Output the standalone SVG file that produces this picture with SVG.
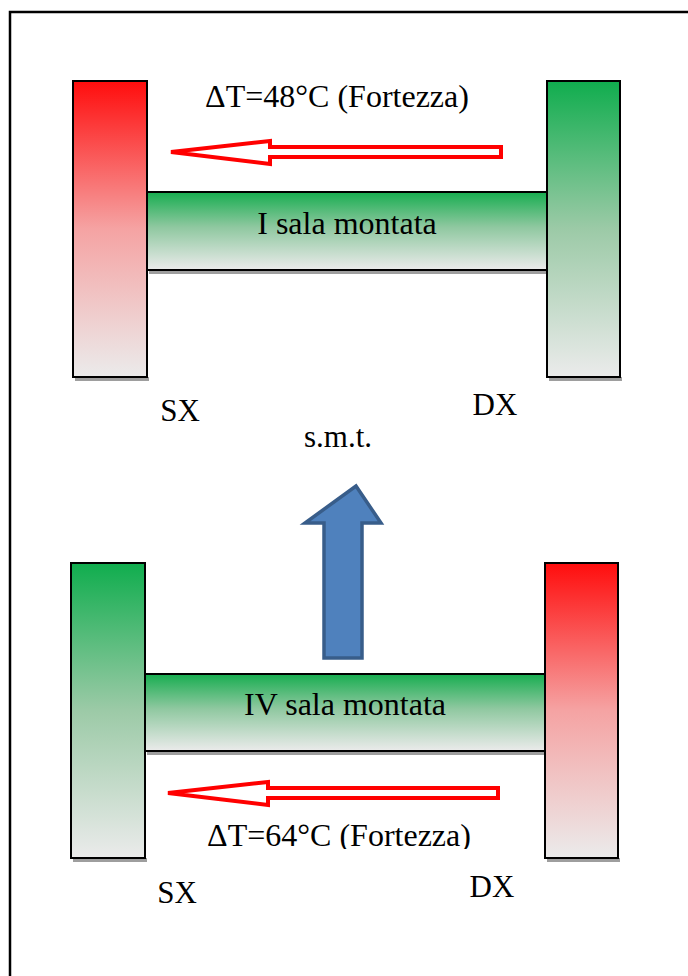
<svg xmlns="http://www.w3.org/2000/svg" width="688" height="976" viewBox="0 0 688 976">
<defs>
<linearGradient id="gRed" x1="0" y1="0" x2="0" y2="1">
<stop offset="0" stop-color="#ff0d0d"/>
<stop offset="0.5" stop-color="#f5a3a3"/>
<stop offset="1" stop-color="#ebebeb"/>
</linearGradient>
<linearGradient id="gGreen" x1="0" y1="0" x2="0" y2="1">
<stop offset="0" stop-color="#10ad4e"/>
<stop offset="0.5" stop-color="#9ccaa7"/>
<stop offset="1" stop-color="#ebebeb"/>
</linearGradient>
<linearGradient id="gAxle" x1="0" y1="0" x2="0" y2="1">
<stop offset="0" stop-color="#17ad50"/>
<stop offset="0.45" stop-color="#8fc8a0"/>
<stop offset="1" stop-color="#ebebeb"/>
</linearGradient>
<clipPath id="clipBottom"><rect x="0" y="0" width="688" height="849"/></clipPath>
</defs>
<style>
.box{stroke:#000;stroke-width:2}
.shadow{fill:#9e9e9e}
.t{font-family:"Liberation Serif","Times New Roman",serif;font-size:32px;fill:#000;text-anchor:middle}
.s{font-size:31px}
.red{fill:#fff;stroke:#ff0000;stroke-width:4;stroke-linejoin:miter}
</style>
<rect x="10" y="12" width="690" height="980" fill="none" stroke="#000" stroke-width="2.5"/>

<g id="top-axle">
<rect class="shadow" x="149" y="270" width="400" height="4"/>
<rect class="box" x="147" y="192" width="400" height="78" fill="url(#gAxle)"/>
<text class="t" x="347" y="234">I sala montata</text>
</g>
<g id="top-sx">
<rect class="shadow" x="75" y="377" width="74" height="4"/>
<rect class="box" x="73" y="81" width="74" height="296" fill="url(#gRed)"/>
<text class="t s" x="180" y="421">SX</text>
</g>
<g id="top-dx">
<rect class="shadow" x="549" y="377" width="73" height="4"/>
<rect class="box" x="547" y="81" width="73" height="296" fill="url(#gGreen)"/>
<text class="t s" x="495" y="415">DX</text>
</g>
<g id="top-dt">
<text class="t" x="337" y="107">ΔT=48°C (Fortezza)</text>
</g>

<g id="bottom-axle">
<rect class="shadow" x="147" y="751" width="400" height="4"/>
<rect class="box" x="145" y="674" width="400" height="77" fill="url(#gAxle)"/>
<text class="t" x="345" y="715">IV sala montata</text>
</g>
<g id="bottom-sx">
<rect class="shadow" x="73" y="858" width="74" height="4"/>
<rect class="box" x="71" y="563" width="74" height="295" fill="url(#gGreen)"/>
<text class="t s" x="177" y="903">SX</text>
</g>
<g id="bottom-dx">
<rect class="shadow" x="547" y="858" width="73" height="4"/>
<rect class="box" x="545" y="563" width="73" height="295" fill="url(#gRed)"/>
<text class="t s" x="492" y="897">DX</text>
</g>
<g id="bottom-dt">
<text class="t" x="339" y="846" clip-path="url(#clipBottom)">ΔT=64°C (Fortezza)</text>
</g>

<g id="smt">
<text class="t s" x="338" y="447">s.m.t.</text>
</g>

<g id="connectors">
<path class="red" d="M171,152 L270,141 L270,147 L501,147 L501,157 L270,157 L270,164 Z"/>
<path class="red" d="M168,793 L268,782 L268,788 L498,788 L498,798 L268,798 L268,805 Z"/>
<path d="M356,486 L381,523 L362,523 L362,658 L324,658 L324,523 L305,523 Z" fill="#4f81bd" stroke="#385d8a" stroke-width="3.5" stroke-linejoin="miter"/>
</g>
</svg>
